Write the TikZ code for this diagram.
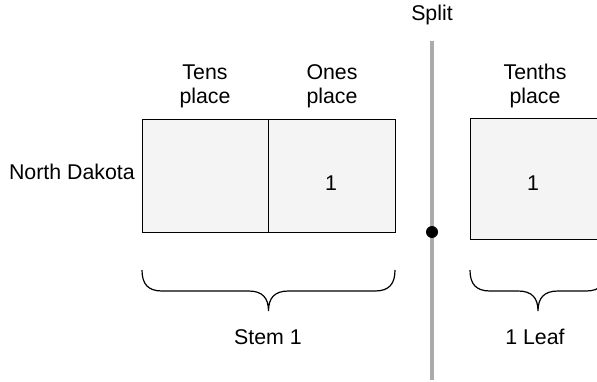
\documentclass[tikz,border=0pt]{standalone}
\usepackage{fontspec}
\setmainfont{Liberation Sans}
\definecolor{cellfill}{HTML}{F4F4F4}
\definecolor{splitgray}{HTML}{ABABAB}

% curly brace opening upward: left x, right x, top y
\newcommand{\drawbrace}[3]{%
  \pgfmathsetmacro\bmid{(#1+#2)/2}
  \draw[bracestroke] (#1,#3)
    .. controls (#1,#3+14) and (#1+6,#3+21) .. (#1+20,#3+21)
    -- (\bmid-20,#3+21)
    .. controls (\bmid-6,#3+21) and (\bmid,#3+28) .. (\bmid,#3+41)
    .. controls (\bmid,#3+28) and (\bmid+6,#3+21) .. (\bmid+20,#3+21)
    -- (#2-20,#3+21)
    .. controls (#2-6,#3+21) and (#2,#3+14) .. (#2,#3);
}

\begin{document}
\begin{tikzpicture}[x=0.75pt,y=-0.75pt,
  cell/.style={draw=black, line width=0.8pt, fill=cellfill, inner sep=0pt, anchor=north west},
  lbl/.style={font=\fontsize{16}{18}\selectfont, align=center, inner sep=0pt},
  bracestroke/.style={draw=black, line width=0.9pt},
  splitline/.style={draw=splitgray, line width=2.3pt},
  splitdot/.style={circle, fill=black, inner sep=0pt, minimum size=9pt}]

\useasboundingbox (0,0) rectangle (597,382);
\clip (0,0) rectangle (597,382);

% stem cells
\node[cell, minimum width=94.7pt, minimum height=84.75pt] (tens) at (142,119) {};
\node[cell, minimum width=95.2pt, minimum height=84.75pt] (ones) at (268.3,119) {};
% leaf cell (runs past the right edge)
\node[cell, minimum width=102pt, minimum height=91pt] (tenths) at (470,118) {};

% column headings
\node[lbl] (tenshead) at (205,86) {Tens\\place};
\node[lbl] (oneshead) at (332,86) {Ones\\place};
\node[lbl] (tenthshead) at (535,86) {Tenths\\place};

% digits
\node[lbl] (onesval) at (331,183) {1};
\node[lbl] (tenthsval) at (533,183) {1};

% row label
\node[lbl, anchor=east] (state) at (135,172) {North Dakota};

% split marker
\node[lbl] (splithead) at (432,15) {Split};
\coordinate (splittop) at (432,41);
\coordinate (splitbot) at (432,380);
\draw[splitline] (splittop) -- (splitbot);
\node[splitdot] (splitpt) at (432,232) {};

% braces and their captions
\drawbrace{142}{395}{270}
\drawbrace{470}{606}{270}
\node[lbl] (stemcap) at (268,337) {Stem 1};
\node[lbl] (leafcap) at (535,337) {1 Leaf};

\end{tikzpicture}
\end{document}
